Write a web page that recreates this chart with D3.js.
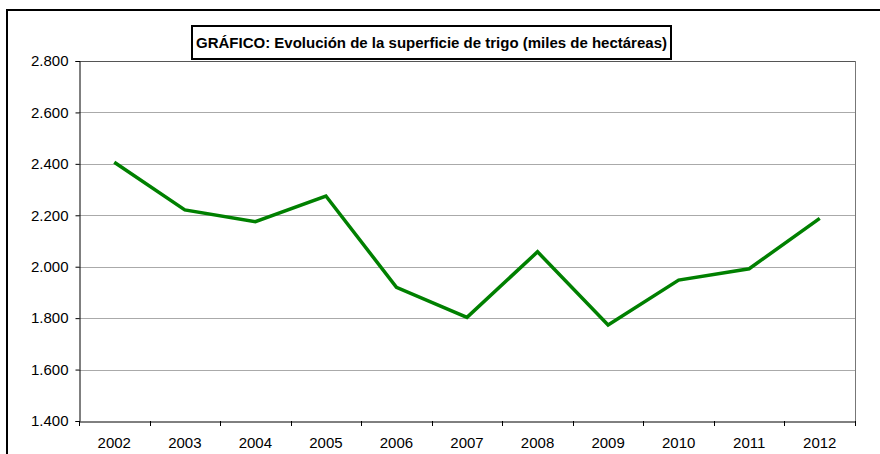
<!DOCTYPE html>
<html>
<head>
<meta charset="utf-8">
<script src="https://cdn.jsdelivr.net/npm/d3@7"></script>
<style>
  body { margin: 0; background: #fff; }
  svg { display: block; font-family: "Liberation Sans", Arial, sans-serif; }
</style>
</head>
<body>
<svg id="chart" width="880" height="454"></svg>
<script>
// data
const years = ["2002", "2003", "2004", "2005", "2006", "2007", "2008", "2009", "2010", "2011", "2012"];
const superficie = [2406, 2221, 2175, 2275, 1920, 1803, 2058, 1773, 1948, 1992, 2188];
const yTicks = [1400, 1600, 1800, 2000, 2200, 2400, 2600, 2800];
const titleText = "GRÁFICO: Evolución de la superficie de trigo (miles de hectáreas)";

const svg = d3.select("#chart");
const m = { left: 79, top: 61, right: 855, bottom: 421 };
const font = "'Liberation Sans', Arial, sans-serif";

const x = d3.scaleBand().domain(years).range([m.left, m.right]);
const y = d3.scaleLinear().domain([1400, 2800]).range([m.bottom, m.top]);
const fmt = v => d3.format(",.3f")(v / 1000).replace(",", "");

// outer chart border (only left and top visible)
svg.append("path")
  .attr("d", "M7,460 V10 H890")
  .attr("fill", "none")
  .attr("stroke", "#000")
  .attr("stroke-width", 2);

// gridlines
svg.append("g")
  .selectAll("line")
  .data(yTicks.slice(1))
  .join("line")
    .attr("x1", m.left).attr("x2", m.right)
    .attr("y1", d => Math.round(y(d)) + 0.5).attr("y2", d => Math.round(y(d)) + 0.5)
    .attr("stroke", d => d === 2800 ? "#555" : "#aaa")
    .attr("stroke-width", 1);

// right plot border
svg.append("line")
  .attr("x1", m.right + 0.5).attr("x2", m.right + 0.5)
  .attr("y1", m.top).attr("y2", m.bottom)
  .attr("stroke", "#777");

// y axis
const yAxis = svg.append("g")
  .attr("transform", `translate(${m.left + 0.5},0)`)
  .call(d3.axisLeft(y).tickValues(yTicks).tickFormat(fmt).tickSize(4).tickPadding(7));
yAxis.select(".domain").attr("stroke", "#000");
yAxis.selectAll("text").attr("font-size", 15).attr("fill", "#000").attr("font-family", font);

// x axis: ticks on category boundaries
const xAxis = svg.append("g")
  .attr("transform", `translate(0,${m.bottom + 0.5})`)
  .call(d3.axisBottom(x).tickSize(0).tickPadding(16));
xAxis.select(".domain").attr("stroke", "#000");
xAxis.selectAll("text").attr("font-size", 15).attr("fill", "#000").attr("font-family", font);
svg.append("g")
  .selectAll("line")
  .data(d3.range(years.length + 1))
  .join("line")
    .attr("x1", i => Math.round(m.left + i * x.step()) + 0.5)
    .attr("x2", i => Math.round(m.left + i * x.step()) + 0.5)
    .attr("y1", m.bottom).attr("y2", m.bottom + 5)
    .attr("stroke", "#000");

// series
const line = d3.line()
  .x((d, i) => x(years[i]) + x.bandwidth() / 2)
  .y(d => y(d));
svg.append("path")
  .datum(superficie)
  .attr("d", line)
  .attr("fill", "none")
  .attr("stroke", "#008000")
  .attr("stroke-width", 3.5)
  .attr("stroke-linejoin", "miter");

// title box
const tg = svg.append("g");
tg.append("rect")
  .attr("x", 192).attr("y", 26)
  .attr("width", 479).attr("height", 33)
  .attr("fill", "#fff")
  .attr("stroke", "#000")
  .attr("stroke-width", 2);
tg.append("text")
  .attr("x", 431.5).attr("y", 48)
  .attr("text-anchor", "middle")
  .attr("font-size", 15)
  .attr("font-weight", "bold")
  .attr("font-family", font)
  .text(titleText);
</script>
</body>
</html>
